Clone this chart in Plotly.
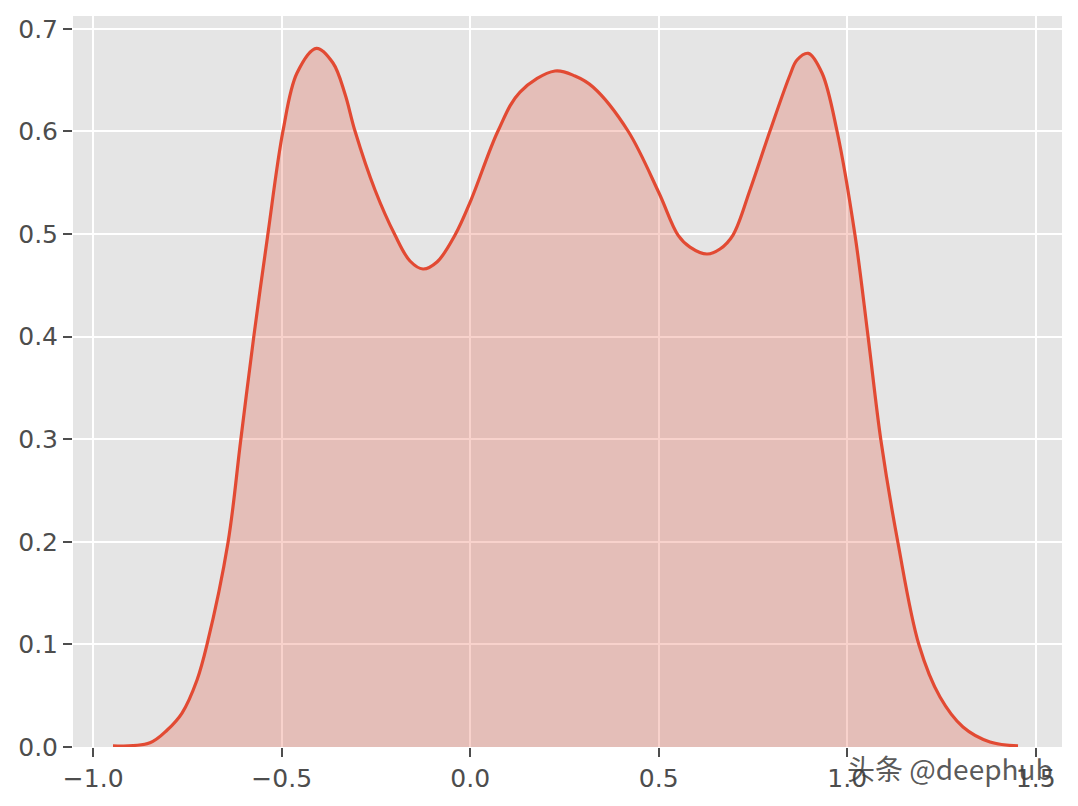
import plotly.graph_objects as go

# KDE curve
x_vals = [-0.9475, -0.8494, -0.8037, -0.7644, -0.7246, -0.6981, -0.6424, -0.6088,
          -0.5740, -0.5377, -0.4966, -0.4594, -0.4077,
          -0.3639, -0.3321, -0.3056, -0.2525, -0.1995, -0.1597, -0.1252, -0.0881,
          -0.0403, 0.0021, 0.0737, 0.1321, 0.2249,
          0.2780, 0.3257, 0.4186, 0.5008, 0.5512, 0.5830, 0.6281, 0.6626, 0.6971,
          0.7422, 0.7952, 0.8483, 0.8668, 0.8968,
          0.9332, 0.9730, 1.0207, 1.0552, 1.0897, 1.1348, 1.1905, 1.2462, 1.3072,
          1.3788, 1.4531]
density = [0.0010, 0.0042, 0.0166, 0.0331, 0.0653, 0.1000, 0.1994, 0.2988,
           0.4002, 0.4971, 0.6004, 0.6569, 0.6810,
           0.6667, 0.6365, 0.6004, 0.5429, 0.4990, 0.4737, 0.4659, 0.4727,
           0.4990, 0.5331, 0.6004, 0.6384, 0.6589,
           0.6540, 0.6433, 0.6004, 0.5400, 0.4990, 0.4873, 0.4805, 0.4854, 0.4990,
           0.5429, 0.6004, 0.6550, 0.6696, 0.6761,
           0.6569, 0.6004, 0.4990, 0.4006, 0.2982, 0.1988, 0.0994, 0.0487, 0.0195,
           0.0049, 0.0010]

x_ticks = [-1.0, -0.5, 0.0, 0.5, 1.0, 1.5]
y_ticks = [0.0, 0.1, 0.2, 0.3, 0.4, 0.5, 0.6, 0.7]

line_color = "#E24A33"
fill_color = "rgba(226,74,51,0.25)"
bg_color = "#E5E5E5"
tick_color = "#4D4D4D"
font_family = "DejaVu Sans"

fig = go.Figure()
fig.add_trace(go.Scatter(
    x=x_vals, y=density, mode="lines",
    line=dict(color=line_color, width=3.2, shape="spline", smoothing=1.0),
    fill="tozeroy", fillcolor=fill_color,
    hoverinfo="skip", showlegend=False,
))

axis_common = dict(
    showgrid=True, gridcolor="white", gridwidth=1.5,
    zeroline=False, showline=False,
    ticks="outside", ticklen=9, tickwidth=1.5, tickcolor=tick_color,
    tickfont=dict(family=font_family, size=25, color=tick_color),
)

fig.update_layout(
    width=1078, height=806,
    margin=dict(l=73, r=16, t=16, b=59),
    paper_bgcolor="white", plot_bgcolor=bg_color,
    font=dict(family=font_family),
    xaxis=dict(range=[-1.0536, 1.5698], tickvals=x_ticks, tickformat=".1f",
               automargin=False, **axis_common),
    yaxis=dict(range=[0, 0.7125], tickvals=y_ticks, tickformat=".1f",
               automargin=False, **axis_common),
)

fig.add_annotation(
    text="头条 @deephub", xref="paper", yref="paper",
    x=(950 - 73) / (1062 - 73), y=-(768 - 747) / (747 - 16),
    xanchor="center", yanchor="middle", showarrow=False,
    font=dict(family="Noto Sans CJK SC", size=28, color="rgba(60,60,60,0.85)"),
)

fig.write_html(
    "out.html",
    config={"displayModeBar": False},
    post_script="document.body.style.margin='0';document.body.style.overflow='hidden';",
)
